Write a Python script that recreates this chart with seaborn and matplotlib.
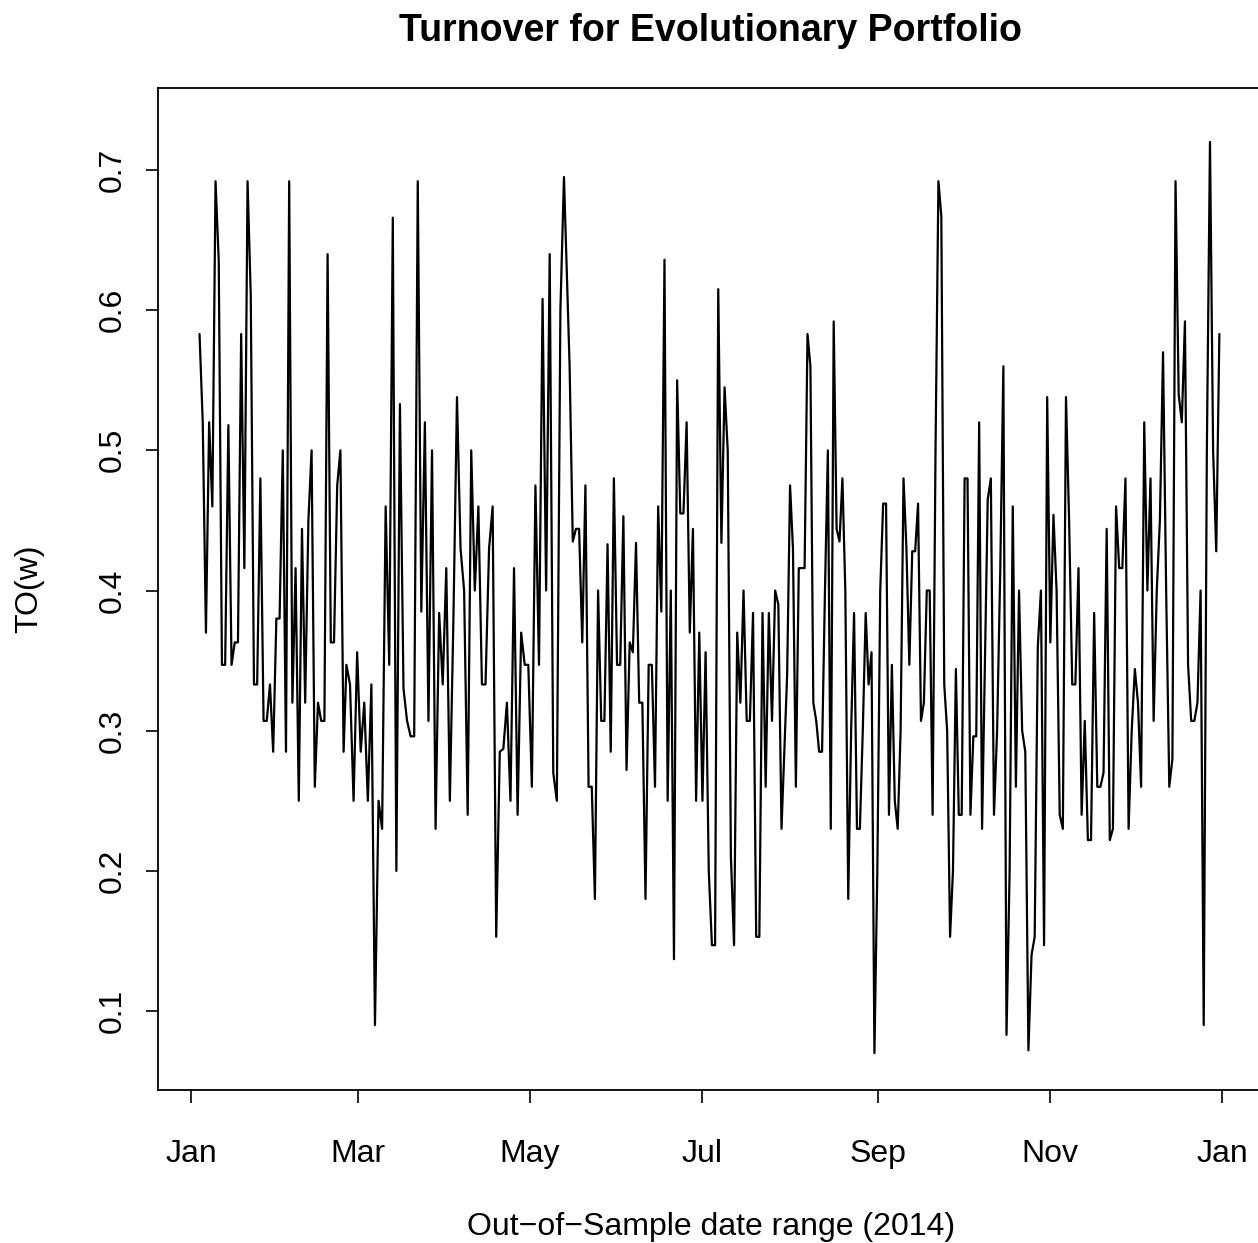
"""
Turnover for Evolutionary Portfolio - out-of-sample 2014
"""
import pandas as pd
import matplotlib.pyplot as plt
import matplotlib.dates as mdates
import seaborn as sns

# 값은 그림에서 읽은 근사치 (구간별)
turnover_jan_feb = [
    0.583, 0.52, 0.37, 0.52, 0.46, 0.692, 0.635, 0.347, 0.347, 0.518, 0.347, 0.363,
    0.363, 0.583, 0.416, 0.692, 0.61, 0.333, 0.333, 0.48, 0.307, 0.307, 0.333, 0.285,
    0.38, 0.38, 0.5, 0.285, 0.692, 0.32, 0.416, 0.25, 0.444, 0.32, 0.45, 0.5,
    0.26, 0.32, 0.307, 0.307, 0.64, 0.363, 0.363, 0.475, 0.5, 0.285,
]
turnover_mar_apr = [
    0.347, 0.333, 0.25, 0.356, 0.285, 0.32, 0.25, 0.333, 0.09, 0.25, 0.23, 0.46,
    0.347, 0.666, 0.2, 0.533, 0.33, 0.307, 0.296, 0.296, 0.692, 0.385, 0.52, 0.307,
    0.5, 0.23, 0.384, 0.333, 0.416, 0.25, 0.38, 0.538, 0.43, 0.4, 0.24, 0.5,
    0.4, 0.46, 0.333, 0.333, 0.43, 0.46, 0.153, 0.285, 0.287, 0.32, 0.25, 0.416,
    0.24, 0.37, 0.347, 0.347, 0.26, 0.475, 0.347, 0.608, 0.4, 0.64, 0.27, 0.25,
    0.6, 0.695,
]
turnover_may_jul = [
    0.56, 0.435, 0.444, 0.444, 0.363, 0.475, 0.26, 0.26, 0.18, 0.4, 0.307, 0.307,
    0.433, 0.285, 0.48, 0.347, 0.347, 0.453, 0.272, 0.363, 0.356, 0.434, 0.32, 0.32,
    0.18, 0.347, 0.347, 0.26, 0.46, 0.385, 0.636, 0.25, 0.4, 0.137, 0.55, 0.455,
    0.455, 0.52, 0.37, 0.444, 0.25, 0.37, 0.25, 0.356, 0.2, 0.147, 0.147, 0.615,
    0.434, 0.545, 0.5, 0.21, 0.147, 0.37, 0.32, 0.4, 0.307, 0.307, 0.384, 0.153,
    0.153, 0.384, 0.26, 0.384, 0.307, 0.4, 0.39, 0.23,
]
turnover_aug_sep = [
    0.34, 0.475, 0.43, 0.26, 0.416, 0.416, 0.416, 0.583, 0.56, 0.32, 0.307, 0.285,
    0.285, 0.4, 0.5, 0.23, 0.592, 0.444, 0.435, 0.48, 0.4, 0.18, 0.3, 0.384,
    0.23, 0.23, 0.3, 0.384, 0.333, 0.356, 0.07, 0.2, 0.4, 0.462, 0.462, 0.24,
    0.347, 0.25, 0.23, 0.3, 0.48, 0.43, 0.347, 0.428, 0.428, 0.462, 0.307, 0.32,
    0.4, 0.4, 0.24, 0.5, 0.692, 0.667, 0.333, 0.3, 0.153, 0.2, 0.344, 0.24,
    0.24, 0.48, 0.48, 0.24, 0.296, 0.296, 0.52, 0.23,
]
turnover_oct_dec = [
    0.465, 0.48, 0.24, 0.3, 0.414, 0.56, 0.083, 0.2, 0.46, 0.26, 0.4, 0.3,
    0.285, 0.072, 0.14, 0.153, 0.36, 0.4, 0.147, 0.538, 0.363, 0.454, 0.4, 0.24,
    0.23, 0.538, 0.45, 0.333, 0.333, 0.416, 0.24, 0.307, 0.222, 0.222, 0.384, 0.26,
    0.26, 0.27, 0.444, 0.222, 0.23, 0.46, 0.416, 0.416, 0.48, 0.23, 0.3, 0.344,
    0.32, 0.26, 0.52, 0.4, 0.48, 0.307, 0.4, 0.45, 0.57, 0.4, 0.26, 0.28,
    0.692, 0.54, 0.52, 0.592, 0.347, 0.307, 0.307, 0.32, 0.4, 0.09, 0.5, 0.72,
    0.5, 0.428, 0.583,
]

# 각 구간의 시작/끝 날짜
segment_start = ['2014-01-04', '2014-02-25', '2014-05-15', '2014-07-31', '2014-10-10']
segment_end = ['2014-02-24', '2014-05-13', '2014-07-29', '2014-10-08', '2014-12-31']

tick_dates = ['2014-01-01', '2014-03-01', '2014-05-01', '2014-07-01',
              '2014-09-01', '2014-11-01', '2015-01-01']
tick_labels = ['Jan', 'Mar', 'May', 'Jul', 'Sep', 'Nov', 'Jan']

segments = [turnover_jan_feb, turnover_mar_apr, turnover_may_jul,
            turnover_aug_sep, turnover_oct_dec]
parts = []
for vals, start, end in zip(segments, segment_start, segment_end):
    parts.append(pd.DataFrame({
        'date': pd.date_range(start, end, periods=len(vals)),
        'turnover': vals,
    }))
df = pd.concat(parts, ignore_index=True)

sns.set_style('white')
plt.rcParams['font.family'] = ['Liberation Sans', 'DejaVu Sans']
plt.rcParams['text.color'] = 'black'
plt.rcParams['axes.labelcolor'] = 'black'
plt.rcParams['xtick.color'] = 'black'
plt.rcParams['ytick.color'] = 'black'

fig = plt.figure(figsize=(12.58, 12.43), dpi=100)
ax = fig.add_axes([0.1256, 0.1231, 0.8785, 0.8061])

sns.lineplot(data=df, x='date', y='turnover', ax=ax, color='black', linewidth=1.6)

# R 기본 그래픽 스타일 흉내
ax.set_xlim(mdates.date2num(pd.Timestamp('2014-01-01')) - 11.7,
            mdates.date2num(pd.Timestamp('2015-01-01')) + 14.5)
ax.set_ylim(0.0437, 0.7585)
ax.set_xticks(pd.to_datetime(tick_dates))
ax.set_xticklabels(tick_labels)
ax.set_yticks([0.1, 0.2, 0.3, 0.4, 0.5, 0.6, 0.7])
ax.set_yticklabels(['0.1', '0.2', '0.3', '0.4', '0.5', '0.6', '0.7'],
                   rotation=90, va='center')

ax.tick_params(axis='both', direction='out', length=9, width=1.2,
               color='black', labelcolor='black', labelsize=23,
               bottom=True, left=True)
ax.tick_params(axis='x', pad=26)
ax.tick_params(axis='y', pad=13)

for spine in ax.spines.values():
    spine.set_color('black')
    spine.set_linewidth(1.3)

ax.set_xlabel('Out\u2212of\u2212Sample date range (2014)', fontsize=23,
              color='black', labelpad=31)
ax.set_ylabel('TO(w)', fontsize=23, color='black', labelpad=38)
ax.set_title('Turnover for Evolutionary Portfolio', fontsize=27,
             fontweight='bold', color='black', pad=34)

plt.savefig('out.png', dpi=100)
plt.close()
